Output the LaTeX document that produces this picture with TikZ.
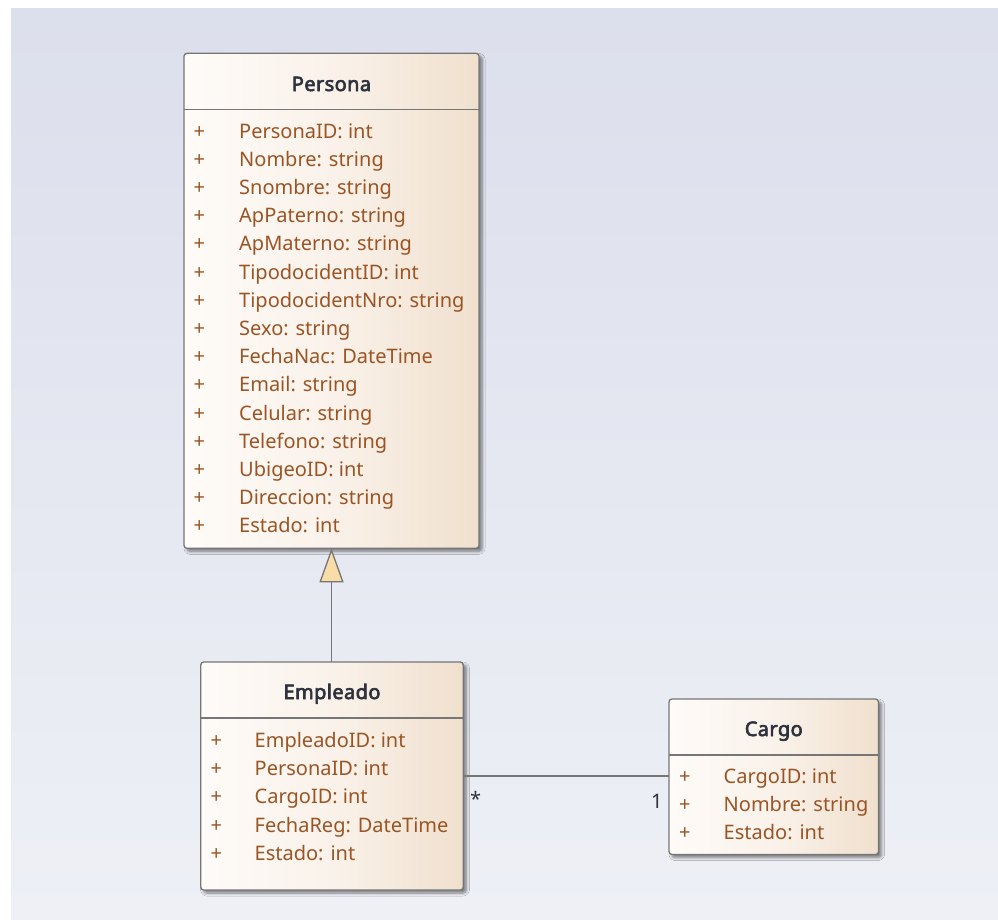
\documentclass[tikz,border=0pt]{standalone}
\usepackage{fontspec}
\setmainfont{Noto Sans}
\newfontfamily\titlefont{Noto Sans}[FakeBold=3.2, LetterSpace=2]
\usetikzlibrary{arrows.meta,shadows.blur}

\definecolor{bgtop}{RGB}{220,223,236}
\definecolor{bgbot}{RGB}{238,240,246}
\definecolor{boxleft}{RGB}{254,251,248}
\definecolor{boxmid}{RGB}{250,242,234}
\definecolor{boxright}{RGB}{240,224,206}
\definecolor{edge}{RGB}{118,118,118}
\definecolor{attrcol}{RGB}{155,84,36}
\definecolor{titlecol}{RGB}{45,50,60}
\definecolor{trifill}{RGB}{250,220,168}

\tikzset{
  classbox/.style={rectangle, draw=edge, line width=1.3pt, rounded corners=3pt,
    left color=boxleft, right color=boxright, middle color=boxmid,
    inner sep=0pt, outer sep=0pt,
    blur shadow={shadow xshift=3pt, shadow yshift=-3pt, shadow blur steps=6,
      shadow blur radius=3pt, shadow opacity=50}},
  sepline/.style={draw=edge, line width=1.3pt},
  title/.style={font=\fontsize{20}{24}\titlefont, text=titlecol,
    inner sep=0pt, anchor=base},
  attr/.style={font=\fontsize{20}{24}\selectfont, text=attrcol,
    inner sep=0pt, anchor=base west},
  vis/.style={font=\fontsize{20}{24}\selectfont, text=attrcol,
    inner sep=0pt, anchor=base west},
  link/.style={draw=edge, line width=1.3pt},
  mult/.style={font=\fontsize{20}{24}\selectfont, text=titlecol,
    inner sep=0pt, anchor=base west},
}

\begin{document}
\begin{tikzpicture}[x=1pt, y=-1pt]
  \useasboundingbox (0,0) rectangle (998,919);
  % canvas
  \shade[top color=bgtop, bottom color=bgbot] (11,8) rectangle (998,919);

  % ---- Persona ----
  \node[classbox, minimum width=295pt, minimum height=495pt] (persona) at (331.5,300.8) {};
  \draw[sepline] (persona.west |- 0,109.3) -- (persona.east |- 0,109.3);
  \node[title] (personaT) at (331.5,91) {Persona};
  \foreach \t [count=\i] in {PersonaID: int, Nombre: string, Snombre: string,
      ApPaterno: string, ApMaterno: string, TipodocidentID: int,
      TipodocidentNro: string, Sexo: string, FechaNac: DateTime,
      Email: string, Celular: string, Telefono: string, UbigeoID: int,
      Direccion: string, Estado: int} {
    \node[vis] (pv\i) at (193.5,{138+28.21*(\i-1)}) {+};
    \node[attr] (pa\i) at (239,{138+28.21*(\i-1)}) {\t};
  }

  % ---- Empleado ----
  \node[classbox, minimum width=262.6pt, minimum height=228pt] (empleado) at (332,776) {};
  \draw[sepline] (empleado.west |- 0,718) -- (empleado.east |- 0,718);
  \node[title] (empleadoT) at (332,699) {Empleado};
  \foreach \t [count=\i] in {EmpleadoID: int, PersonaID: int, CargoID: int,
      FechaReg: DateTime, Estado: int} {
    \node[vis] (ev\i) at (210.5,{747.5+28.2*(\i-1)}) {+};
    \node[attr] (ea\i) at (254.5,{747.5+28.2*(\i-1)}) {\t};
  }

  % ---- Cargo ----
  \node[classbox, minimum width=209.5pt, minimum height=155.5pt] (cargo) at (773.75,776.75) {};
  \draw[sepline] (cargo.west |- 0,755) -- (cargo.east |- 0,755);
  \node[title] (cargoT) at (773.75,736) {Cargo};
  \foreach \t [count=\i] in {CargoID: int, Nombre: string, Estado: int} {
    \node[vis] (cv\i) at (679,{783.5+28.2*(\i-1)}) {+};
    \node[attr] (ca\i) at (723.5,{783.5+28.2*(\i-1)}) {\t};
  }

  % generalization Empleado -> Persona
  \draw[link, -{Triangle[width=24pt, length=34pt, fill=trifill]}]
    (empleado.north -| persona.south) -- (persona.south);

  % association Empleado * -- 1 Cargo
  \coordinate (assocY) at (0,776);
  \draw[link] (empleado.east |- assocY) -- (cargo.west |- assocY);
  \node[mult] (multE) at (470,806) {*};
  \node[mult] (multC) at (651,808) {1};
\end{tikzpicture}
\end{document}
